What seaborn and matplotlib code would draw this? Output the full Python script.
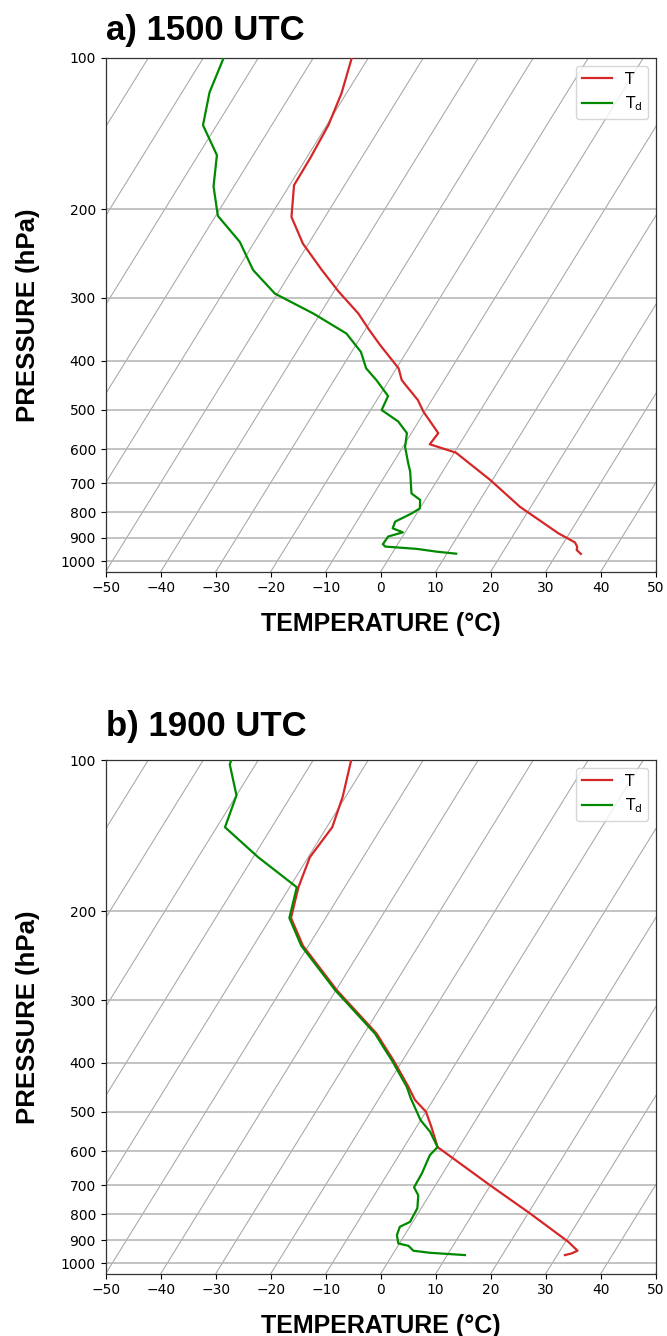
import numpy as np
import pandas as pd
import matplotlib
matplotlib.use("Agg")
import matplotlib.pyplot as plt
import seaborn as sns
from matplotlib.transforms import Affine2D
from matplotlib.ticker import FixedLocator, NullLocator, FuncFormatter

# ---------------- data ----------------
# Panel a) 1500 UTC
P_A_T = [100, 117.5, 136, 158, 179, 207, 234, 264, 291, 322, 347, 372, 414, 437,
         479, 505, 557, 586, 609, 690, 780, 881, 918, 936, 951, 968]
T_A = [-63.0, -60.9, -59.7, -59.3, -59.2, -56.1, -51.0, -44.6, -39.2, -33.1, -29.3,
       -25.6, -19.6, -17.7, -12.5, -10.2, -5.1, -5.4, 0.3, 9.6, 18.0, 28.0, 32.0,
       32.9, 33.2, 34.4]
P_A_TD = [100, 117, 136, 156, 180, 206, 232, 264, 294, 322, 353, 384, 414, 437, 470,
          501, 528, 557, 593, 639, 664, 734, 756, 786, 804, 835, 861, 877, 894, 926,
          936, 946, 958, 967]
TD_A = [-86.3, -85.0, -82.5, -76.6, -73.7, -69.6, -62.7, -57.1, -50.5, -41.3, -33.0,
        -28.3, -25.5, -22.3, -18.4, -18.0, -13.7, -10.8, -9.6, -7.2, -5.9, -3.2, -0.9,
        0.0, -0.9, -3.0, -2.7, -0.4, -2.6, -2.7, -2.0, 4.0, 7.9, 11.7]

# Panel b) 1900 UTC
P_B_T = [100, 118.5, 136, 156, 179, 206, 234, 287, 350, 372, 395, 446, 474, 500, 536,
         588, 700, 797, 907, 928, 945, 957, 964]
T_B = [-63.1, -60.5, -59.0, -59.7, -58.4, -56.3, -51.0, -39.8, -27.7, -24.7, -21.7,
       -16.0, -13.3, -10.0, -7.3, -3.9, 9.9, 20.4, 30.5, 32.0, 33.2, 32.4, 31.4]
P_B_TD = [100, 102, 117.5, 136, 156, 179, 206, 234, 287, 350, 372, 395, 446, 471, 520,
          548, 588, 610, 663, 707, 733, 778, 828, 847, 880, 914, 924, 945, 954, 964]
TD_B = [-84.9, -84.7, -80.0, -78.5, -69.1, -58.7, -56.6, -51.3, -40.1, -28.0, -25.0,
        -22.0, -16.3, -14.2, -10.0, -7.0, -3.9, -4.4, -3.8, -3.65, -2.0, -0.7, -0.5,
        -1.8, -1.4, -0.2, 1.9, 3.35, 6.6, 13.2]

T_TICKS = list(range(-50, 51, 10))
P_TICKS = list(range(100, 1001, 100))
ISOTHERMS = list(range(-110, 51, 10))
P_BOTTOM, P_TOP = 1050, 100
SKEW_DEG = 30

RED = "#d62728"
GREEN = "#008a00"
LABEL_FONT = ["Liberation Sans", "DejaVu Sans"]


def panel(ax, p_t, t, p_td, td, title, title_pad):
    df = pd.concat([
        pd.DataFrame({"p": p_t, "temp": t, "var": "T"}),
        pd.DataFrame({"p": p_td, "temp": td, "var": "Td"}),
    ], ignore_index=True)
    sns.lineplot(data=df, x="temp", y="p", hue="var", hue_order=["T", "Td"],
                 palette={"T": RED, "Td": GREEN}, sort=False, estimator=None,
                 legend=False, linewidth=1.6, ax=ax, zorder=3)
    data_lines = list(ax.lines)

    # skew-T transform: shear in axes coordinates (as MetPy SkewT, rotation 30)
    skew = ax.transData + ax.transAxes.inverted() + \
        Affine2D().skew_deg(SKEW_DEG, 0) + ax.transAxes
    for ln in data_lines:
        ln.set_transform(skew)

    # skewed isotherms
    for t0 in ISOTHERMS:
        ax.plot([t0, t0], [P_BOTTOM, P_TOP], transform=skew, color="#a6a6a6",
                lw=0.75, zorder=1, scalex=False, scaley=False)

    ax.set_yscale("log")
    ax.set_ylim(P_BOTTOM, P_TOP)
    ax.set_xlim(-50, 50)
    ax.yaxis.set_major_locator(FixedLocator(P_TICKS))
    ax.yaxis.set_major_formatter(FuncFormatter(lambda v, pos: f"{v:.0f}"))
    ax.yaxis.set_minor_locator(NullLocator())
    ax.set_xticks(T_TICKS)
    ax.grid(axis="y", color="#b3b3b3", lw=1.1, zorder=1.5)
    ax.grid(axis="x", visible=False)
    ax.tick_params(labelsize=10, length=3.5, width=0.8, direction="out")
    for sp in ax.spines.values():
        sp.set_color("#333333")
        sp.set_linewidth(0.9)

    ax.set_xlabel("TEMPERATURE (°C)", fontsize=18, fontweight="bold",
                  family=LABEL_FONT, labelpad=12)
    ax.set_ylabel("PRESSURE (hPa)", fontsize=18.5, fontweight="bold",
                  family=LABEL_FONT, labelpad=15)
    ax.set_title(title, loc="left", fontsize=25, fontweight="bold",
                 family=LABEL_FONT, pad=title_pad)
    ax.legend(handles=data_lines, labels=["T", r"$\mathregular{T_d}$"],
              loc="upper right", fontsize=11, handlelength=2.0)


fig = plt.figure(figsize=(6.67, 13.36), dpi=100)
ax_a = fig.add_axes([0.1585, 0.5721, 0.8246, 0.3845])
ax_b = fig.add_axes([0.1585, 0.0466, 0.8246, 0.3845])

panel(ax_a, P_A_T, T_A, P_A_TD, TD_A, "a) 1500 UTC", 13)
panel(ax_b, P_B_T, T_B, P_B_TD, TD_B, "b) 1900 UTC", 17)

fig.savefig("out.png", dpi=100, facecolor="white")
